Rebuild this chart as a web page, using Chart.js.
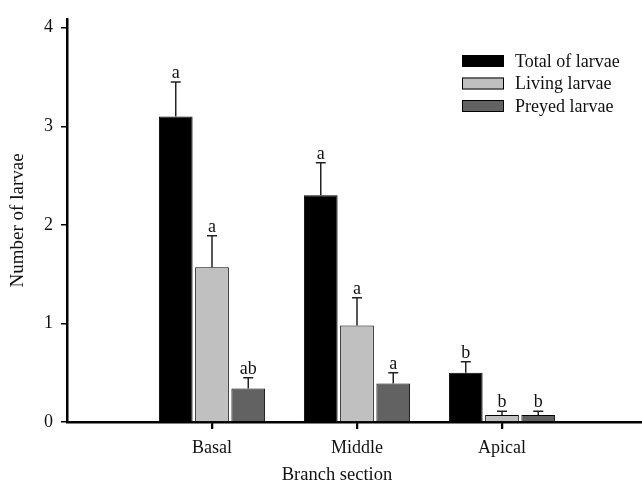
<!DOCTYPE html>
<html>
<head>
<meta charset="utf-8">
<script src="https://cdn.jsdelivr.net/npm/chart.js@4.4.1/dist/chart.umd.min.js"></script>
<style>
  html, body { margin: 0; padding: 0; background: #fff; }
  #wrap { width: 642px; height: 492px; position: relative; }
</style>
</head>
<body>
<div id="wrap"><canvas id="chart"></canvas></div>
<script>
const SERIF = "'Liberation Serif', 'Times New Roman', serif";

// ---- data ----
const sections = ["Basal", "Middle", "Apical"];
const sectionPos = [1, 2, 3];
const seriesNames = ["Total of larvae", "Living larvae", "Preyed larvae"];
const totalLarvae = [3.10, 2.30, 0.50];
const livingLarvae = [1.57, 0.98, 0.07];
const preyedLarvae = [0.34, 0.39, 0.07];
const totalErr = [0.35, 0.33, 0.11];
const livingErr = [0.32, 0.28, 0.04];
const preyedErr = [0.11, 0.11, 0.04];
const totalLetters = ["a", "a", "b"];
const livingLetters = ["a", "a", "b"];
const preyedLetters = ["ab", "a", "b"];
const yTicks = [0, 1, 2, 3, 4];

const COLORS = ["#000000", "#c0c0c0", "#626262"];

function points(vals) {
  return vals.map((v, i) => ({ x: sectionPos[i], y: v }));
}

const errs = [totalErr, livingErr, preyedErr];
const letters = [totalLetters, livingLetters, preyedLetters];

// error bars + letters over each bar
const errorBars = {
  id: "errorBars",
  afterDatasetsDraw(chart) {
    const c = chart.ctx;
    const y = chart.scales.y;
    c.save();
    c.strokeStyle = "#222";
    c.lineWidth = 1.5;
    c.fillStyle = "#111";
    c.font = "18px " + SERIF;
    c.textAlign = "center";
    c.textBaseline = "alphabetic";
    chart.data.datasets.forEach((ds, di) => {
      const meta = chart.getDatasetMeta(di);
      meta.data.forEach((bar, i) => {
        const v = ds.data[i].y;
        const topY = y.getPixelForValue(v);
        const capY = y.getPixelForValue(v + errs[di][i]);
        c.beginPath();
        c.moveTo(bar.x, topY);
        c.lineTo(bar.x, capY);
        c.moveTo(bar.x - 5, capY);
        c.lineTo(bar.x + 5, capY);
        c.stroke();
        c.fillText(letters[di][i], bar.x, capY - 4);
      });
    });
    c.restore();
  }
};

// legend box at top right, x tick marks, x axis title
const extras = {
  id: "extras",
  afterDraw(chart) {
    const c = chart.ctx;
    const x = chart.scales.x;
    const base = chart.chartArea.bottom;
    c.save();
    c.strokeStyle = "#000";
    c.lineWidth = 1.5;
    c.beginPath();
    sectionPos.forEach(v => {
      const px = Math.round(x.getPixelForValue(v)) + 0.5;
      c.moveTo(px, base);
      c.lineTo(px, base + 7);
    });
    c.stroke();

    c.font = "18px " + SERIF;
    c.textBaseline = "middle";
    c.textAlign = "left";
    seriesNames.forEach((name, i) => {
      const yy = 61 + i * 22.5;
      c.fillStyle = COLORS[i];
      c.fillRect(462, yy - 6, 42, 12);
      c.strokeStyle = "#000";
      c.lineWidth = 1;
      c.strokeRect(462.5, yy - 5.5, 41, 11);
      c.fillStyle = "#111";
      c.fillText(name, 515, yy + 1);
    });
    c.textAlign = "center";
    c.textBaseline = "alphabetic";
    c.font = "18.5px " + SERIF;
    c.fillText("Branch section", 337, 480);
    c.restore();
  }
};

const ctx = document.getElementById("chart").getContext("2d");

new Chart(ctx, {
  type: "bar",
  data: {
    datasets: [
      { label: seriesNames[0], data: points(totalLarvae), backgroundColor: COLORS[0], borderColor: "#000", borderWidth: 1 },
      { label: seriesNames[1], data: points(livingLarvae), backgroundColor: COLORS[1], borderColor: "#000", borderWidth: 1 },
      { label: seriesNames[2], data: points(preyedLarvae), backgroundColor: COLORS[2], borderColor: "#000", borderWidth: 1 }
    ]
  },
  options: {
    responsive: true,
    maintainAspectRatio: false,
    animation: false,
    categoryPercentage: 0.75,
    barPercentage: 0.93,
    layout: { padding: { top: 13, right: 0, bottom: 0, left: 0 } },
    plugins: { legend: { display: false }, tooltip: { enabled: false } },
    scales: {
      x: {
        type: "linear",
        offset: false,
        min: 0,
        max: 575 / 145,
        afterBuildTicks: (s) => { s.ticks = sectionPos.map(v => ({ value: v })); },
        afterFit: (s) => { s.height = 70; },
        ticks: {
          callback: (v) => sections[sectionPos.indexOf(v)] || "",
          color: "#111",
          font: { family: SERIF, size: 18 },
          padding: 8,
          maxRotation: 0,
          autoSkip: false
        },
        grid: { offset: false, drawOnChartArea: false, drawTicks: true, tickLength: 7, color: "#000", lineWidth: 1.5 },
        border: { display: true, color: "#000", width: 2.5 }
      },
      y: {
        min: 0,
        max: 4.09,
        afterBuildTicks: (s) => { s.ticks = yTicks.map(v => ({ value: v })); },
        afterFit: (s) => { s.width = 67; },
        ticks: {
          color: "#111",
          font: { family: SERIF, size: 18 },
          padding: 8
        },
        grid: { drawOnChartArea: false, tickLength: 6, color: "#000", lineWidth: 1.5 },
        border: { display: true, color: "#000", width: 2.5 },
        title: {
          display: true,
          text: "Number of larvae",
          color: "#111",
          font: { family: SERIF, size: 19 },
          padding: { top: 7, bottom: 0 }
        }
      }
    }
  },
  plugins: [errorBars, extras]
});
</script>
</body>
</html>
